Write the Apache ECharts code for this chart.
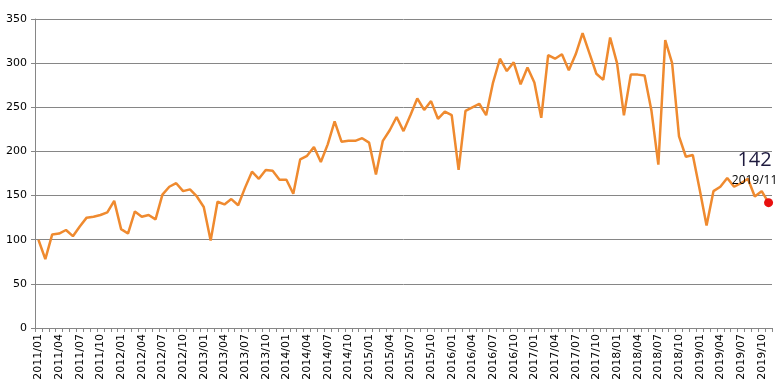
<!DOCTYPE html>
<html>
<head>
<meta charset="utf-8">
<script src="https://cdn.jsdelivr.net/npm/echarts@6/dist/echarts.min.js"></script>
<style>
  html, body { margin: 0; padding: 0; background: #fff; }
</style>
</head>
<body>
<div id="monthChart" style="width: 780px; height: 391px;"></div>
<script>
// 月份标签 2011/01 - 2019/11
var startYear = 2011
var endYear = 2019
var lastMonth = 11
var months = []
for (var y = startYear; y <= endYear; y++) {
  for (var m = 1; m <= 12; m++) {
    if (y === endYear && m > lastMonth) break
    months.push(y + '/' + (m < 10 ? '0' + m : m))
  }
}

// 每年的数值
var v2011 = [100, 78, 106, 107, 111, 104, 115, 125, 126, 128, 131, 144]
var v2012 = [112, 107, 132, 126, 128, 123, 151, 160, 164, 155, 157, 149]
var v2013 = [137, 99, 143, 140, 146, 139, 159, 177, 169, 179, 178, 168]
var v2014 = [168, 152, 191, 195, 205, 188, 208, 234, 211, 212, 212, 215]
var v2015 = [210, 174, 212, 224, 239, 223, 241, 260, 247, 257, 237, 245]
var v2016 = [241, 179, 246, 250, 254, 241, 278, 305, 291, 301, 276, 295]
var v2017 = [278, 238, 309, 305, 310, 292, 310, 334, 311, 288, 281, 329]
var v2018 = [300, 241, 287, 287, 286, 246, 185, 326, 300, 217, 194, 196]
var v2019 = [157, 116, 155, 160, 170, 160, 164, 169, 149, 155, 142]

var yTicks = [0, 50, 100, 150, 200, 250, 300, 350]

var values = [].concat(v2011, v2012, v2013, v2014, v2015, v2016, v2017, v2018, v2019)

// 最后一个点：红点 + 标签
var lastIdx = values.length - 1
var seriesData = values.map(function (v, i) {
  if (i !== lastIdx) return v
  return {
    value: v,
    symbol: 'circle',
    symbolSize: 9,
    itemStyle: { color: '#e8100f' },
    label: {
      show: true,
      position: 'top',
      distance: 10,
      offset: [-14, 0],
      formatter: '{a|' + v + '}\n{b|' + months[i] + '}',
      rich: {
        a: { fontSize: 20, color: '#1e1a3e', fontFamily: 'Open Sans', lineHeight: 24, align: 'center' },
        b: { fontSize: 12, color: '#000', fontFamily: 'Open Sans', lineHeight: 16, align: 'center' }
      }
    }
  }
})

var myChart = echarts.init(document.getElementById('monthChart'))
var option = {
  animation: false,
  backgroundColor: '#fff',
  grid: {
    left: 35,
    right: 8,
    top: 19,
    bottom: 63
  },
  xAxis: {
    type: 'category',
    data: months,
    boundaryGap: true,
    axisLine: { lineStyle: { color: '#868686', width: 1 } },
    axisTick: { show: true, interval: 0, length: 4, lineStyle: { color: '#868686' } },
    axisLabel: {
      interval: 2,
      rotate: 90,
      margin: 6,
      fontSize: 11,
      color: '#000',
      fontFamily: 'DejaVu Sans'
    },
    splitLine: { show: false }
  },
  yAxis: {
    type: 'value',
    min: yTicks[0],
    max: yTicks[yTicks.length - 1],
    interval: 50,
    axisLine: { show: true, lineStyle: { color: '#868686', width: 1 } },
    axisTick: { show: true, length: 4, lineStyle: { color: '#868686' } },
    axisLabel: {
      margin: 8,
      fontSize: 11,
      color: '#000',
      fontFamily: 'DejaVu Sans'
    },
    splitLine: { show: true, lineStyle: { color: '#868686', width: 1 } }
  },
  series: [{
    type: 'line',
    symbol: 'circle',
    symbolSize: 0,
    showSymbol: true,
    showAllSymbol: true,
    data: seriesData,
    lineStyle: { color: '#ef8a2f', width: 2.5 },
    itemStyle: { color: '#ef8a2f' },
    emphasis: { disabled: true },
    z: 3
  }]
}
myChart.setOption(option)
</script>
</body>
</html>
